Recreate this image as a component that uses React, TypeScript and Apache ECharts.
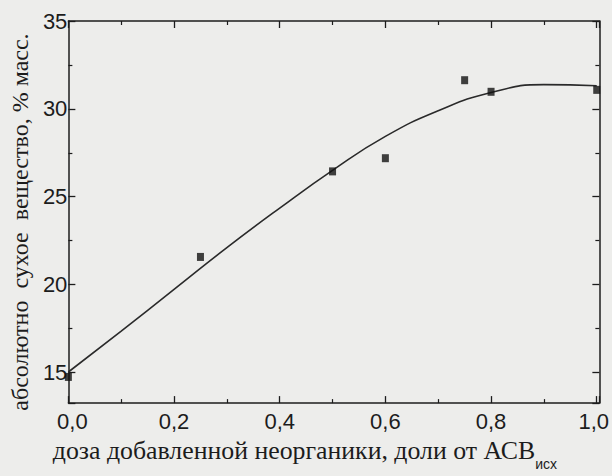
import React, { useEffect, useRef } from "react";
import * as echarts from "echarts";

// measured points
const doseMeasured = [0, 0.25, 0.5, 0.6, 0.75, 0.8, 1.0];
const dryMatterMeasured = [14.74, 21.57, 26.44, 27.19, 31.63, 30.97, 31.08];

// fitted curve
const doseFit = [0, 0.1, 0.2, 0.3, 0.4, 0.5, 0.6, 0.7, 0.8, 0.9, 1.0];
const dryMatterFit = [15.02, 17.35, 19.72, 22.1, 24.35, 26.5, 28.43, 29.89, 30.93, 31.38, 31.31];

// axis ticks
const xTickStep = 0.2;
const yTickStep = 5;

const xTitle = "доза добавленной неорганики, доли от АСВ";
const xTitleSub = "исх";
const yTitle = "абсолютно\u00a0 сухое\u00a0 вещество, % масс.";

const X_MIN = 0;
const X_MAX = 1.005;
const Y_MIN = 13.25;
const Y_MAX = 35;

const INK = "#1c1c1c";
const SANS = "Liberation Sans, Arial, sans-serif";
const SERIF = "Liberation Serif, Times New Roman, serif";

const isMultiple = (v: number, step: number) =>
  Math.abs(v / step - Math.round(v / step)) < 1e-6;

export default function App() {
  const ref = useRef<HTMLDivElement>(null);

  useEffect(() => {
    if (!ref.current) return;
    const chart = echarts.init(ref.current, undefined, { renderer: "svg" });

    const lineStyle = { color: INK, width: 1.5 };
    const xFmt = (v: number) => {
      if (!isMultiple(v, xTickStep)) return "";
      const s = v.toFixed(1).replace(".", ",");
      if (v === 0) return "{s|" + s + "}";
      if (Math.abs(v - 1) < 1e-9) return "{e|" + s + "}";
      return s;
    };
    const labelRich = {
      s: { fontSize: 22, fontFamily: SANS, color: INK, padding: [0, 0, 0, 8] },
      e: { fontSize: 22, fontFamily: SANS, color: INK, padding: [0, 6, 0, 0] },
    };

    const majorTick = { show: true, inside: true, length: 7, lineStyle: { color: INK, width: 1.3 } };
    const minorTick = { show: true, splitNumber: 2, length: 4, lineStyle: { color: INK, width: 1.2 } };

    const xAxis = (position: string, main: boolean): any => ({
      type: "value",
      position,
      min: X_MIN,
      max: X_MAX,
      interval: xTickStep,
      axisLine: { show: true, onZero: false, lineStyle },
      axisTick: majorTick,
      minorTick: minorTick,
      axisLabel: main
        ? { show: true, formatter: xFmt, fontSize: 22, fontFamily: SANS, color: INK, margin: 7, rich: labelRich }
        : { show: false },
      splitLine: { show: false },
      minorSplitLine: { show: false },
    });

    const yAxis = (position: string, main: boolean): any => ({
      type: "value",
      position,
      min: Y_MIN,
      max: Y_MAX,
      splitNumber: 5,
      axisLine: { show: true, onZero: false, lineStyle },
      axisTick: majorTick,
      minorTick: minorTick,
      axisLabel: main
        ? {
            show: true,
            formatter: (v: number) => (isMultiple(v, yTickStep) ? String(Math.round(v)) : ""),
            fontSize: 22,
            fontFamily: SANS,
            color: INK,
            margin: 1,
          }
        : { show: false },
      splitLine: { show: false },
      minorSplitLine: { show: false },
    });

    const xMain = xAxis("bottom", true);
    xMain.name = "{a|" + xTitle + "}{b|" + xTitleSub + "}";
    xMain.nameLocation = "middle";
    xMain.nameGap = 32;
    xMain.nameTextStyle = {
      padding: [0, 58, 0, 0],
      rich: {
        a: { fontSize: 25.8, fontFamily: SERIF, color: INK, lineHeight: 26, verticalAlign: "top" },
        b: { fontSize: 14, fontFamily: SANS, color: INK, lineHeight: 34, verticalAlign: "bottom" },
      },
    };

    const yMain = yAxis("left", true);
    yMain.name = yTitle;
    yMain.nameLocation = "middle";
    yMain.nameGap = 30;
    yMain.nameRotate = 90;
    yMain.nameTextStyle = { fontSize: 24, fontFamily: SERIF, color: INK, padding: [0, 20, 0, 0] };

    const option: any = {
      animation: false,
      backgroundColor: "#ededeb",
      grid: { left: 64, right: 4.5, top: 21, bottom: 68, containLabel: false },
      xAxis: [xMain, xAxis("top", false)],
      yAxis: [yMain, yAxis("right", false)],
      series: [
        {
          type: "line",
          name: "fit",
          xAxisIndex: 0,
          yAxisIndex: 0,
          data: doseFit.map((x, i) => [x, dryMatterFit[i]]),
          showSymbol: false,
          symbol: "none",
          smooth: 0.5,
          lineStyle: { color: "#2a2a2a", width: 1.6 },
          z: 2,
        },
        {
          type: "scatter",
          name: "measured",
          xAxisIndex: 0,
          yAxisIndex: 0,
          data: doseMeasured.map((x, i) => [x, dryMatterMeasured[i]]),
          symbol: "rect",
          symbolSize: [7, 8],
          itemStyle: { color: "#111" },
          z: 3,
        },
      ],
    };

    chart.setOption(option);
    return () => chart.dispose();
  }, []);

  return (
    <div ref={ref} style={{ position: "fixed", left: 0, top: 0, width: 612, height: 476 }} />
  );
}
